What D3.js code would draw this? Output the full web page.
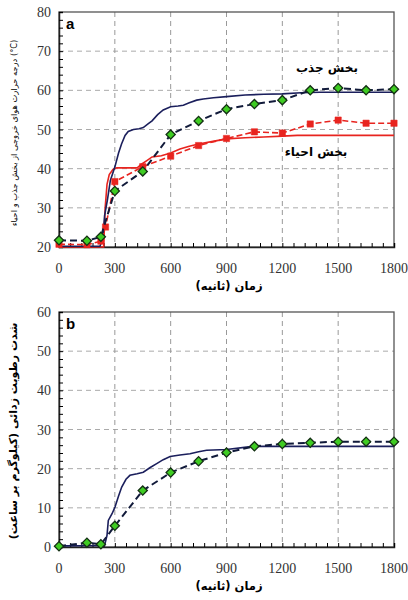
<!DOCTYPE html>
<html>
<head>
<meta charset="utf-8">
<script src="https://cdn.jsdelivr.net/npm/d3@7"></script>
<style>
  body { margin: 0; background: #fff; }
  svg { display: block; }
</style>
</head>
<body>
<div id="chart"></div>
<script>
// ---- data ----
var xTicks = [0, 300, 600, 900, 1200, 1500, 1800];

// panel a: outlet air temperature
var absorbLine = [[0,20.2],[220,20.2],[235,22],[245,28],[260,32],[276,37],[300,40.4],[320,44],[336,46.3],[355,48.5],[372,49.5],[400,50],[430,50.2],[453,50.5],[480,51.5],[500,52.2],[530,53.8],[560,55],[600,55.8],[640,56],[668,56.2],[700,56.8],[740,57.5],[775,57.8],[830,58.1],[900,58.4],[1000,58.8],[1100,59],[1200,59.1],[1300,59.4],[1400,59.5],[1800,59.5]];
var regenLine = [[0,20],[240,20],[248,30],[258,36],[270,38.5],[290,39.8],[310,40.2],[420,40.2],[445,41.2],[470,42],[500,43],[550,43.3],[600,44],[650,45],[700,45.7],[750,46.3],[820,46.9],[900,47.6],[1000,47.9],[1100,48.1],[1200,48.3],[1280,48.5],[1800,48.5]];
var absorbPts = [[0,21.7],[150,21.6],[225,22.6],[300,34.3],[450,39.3],[600,48.7],[750,52.2],[900,55.2],[1050,56.5],[1200,57.5],[1350,60],[1500,60.6],[1650,60],[1800,60.3]];
var regenPts = [[0,20.7],[150,20.6],[225,21.5],[250,25.1],[300,36.7],[450,40.5],[600,43.2],[750,45.9],[900,47.7],[1050,49.4],[1200,49.1],[1350,51.4],[1500,52.4],[1650,51.6],[1800,51.6]];

// panel b: dehumidification rate
var dehumLine = [[0,0.3],[245,0.4],[258,3],[265,6.8],[285,8.5],[301,10.2],[320,13],[337,15.3],[360,17.3],[381,18.3],[420,18.7],[453,19.1],[490,20.3],[525,21.3],[560,22.3],[597,23.1],[650,23.5],[704,23.8],[750,24.3],[793,24.7],[900,24.9],[1008,25.5],[1050,25.7],[1800,25.7]];
var dehumPts = [[0,0.2],[150,1.1],[225,0.7],[300,5.4],[450,14.4],[600,19],[750,21.9],[900,24.1],[1050,25.7],[1200,26.3],[1350,26.6],[1500,26.9],[1650,26.9],[1800,26.9]];

var width = 408, height = 600;
var svg = d3.select("#chart").append("svg")
    .attr("width", width).attr("height", height);

var navy = "#1b1f5c", red = "#e8241f", green = "#3fcc22";

function drawPanel(p) {
    var x = d3.scaleLinear().domain([0, 1800]).range([59, 394]);
    var y = d3.scaleLinear().domain(p.yDomain).range([p.bottom, p.top]);
    var g = svg.append("g");

    // grid
    var yTicks = d3.range(p.yDomain[0], p.yDomain[1] + 1, 10);
    g.selectAll(".gy").data(yTicks.slice(1, -1)).enter().append("line")
        .attr("x1", x(0)).attr("x2", x(1800))
        .attr("y1", function(d){ return y(d); }).attr("y2", function(d){ return y(d); })
        .style("stroke", "#aaa").style("stroke-dasharray", "5,4").style("stroke-width", 1);
    g.selectAll(".gx").data(xTicks.slice(1, -1)).enter().append("line")
        .attr("x1", function(d){ return x(d); }).attr("x2", function(d){ return x(d); })
        .attr("y1", p.top).attr("y2", p.bottom)
        .style("stroke", "#999").style("stroke-dasharray", "5,4").style("stroke-width", 1);

    // frame
    g.append("rect").attr("x", x(0)).attr("y", p.top)
        .attr("width", x(1800) - x(0)).attr("height", p.bottom - p.top)
        .style("fill", "none").style("stroke", "#555").style("stroke-width", 1.3);

    // axes with inward ticks
    var yAxis = d3.axisRight(y).tickValues(d3.range(p.yDomain[0], p.yDomain[1] + 0.1, 2))
        .tickSize(4).tickFormat("");
    g.append("g").attr("transform", "translate(" + x(0) + ",0)").call(yAxis)
        .call(function(s){ s.select(".domain").attr("stroke", "#222").attr("stroke-width", 1.5); });
    var xAxis = d3.axisTop(x).tickValues(d3.range(0, 1801, 60)).tickSize(4).tickFormat("");
    g.append("g").attr("transform", "translate(0," + p.bottom + ")").call(xAxis)
        .call(function(s){ s.select(".domain").attr("stroke", "#222").attr("stroke-width", 1.5); });

    // tick labels
    g.selectAll(".yl").data(yTicks).enter().append("text")
        .attr("x", 51).attr("y", function(d){ return y(d) + 5; })
        .attr("text-anchor", "end")
        .style("font-family", "Liberation Serif, serif").style("font-size", "14px").style("fill", "#333")
        .text(function(d){ return d; });
    g.selectAll(".xl").data(xTicks).enter().append("text")
        .attr("x", function(d){ return x(d); }).attr("y", p.bottom + 26)
        .attr("text-anchor", "middle")
        .style("font-family", "Liberation Serif, serif").style("font-size", "14px").style("fill", "#333")
        .text(function(d){ return d; });

    // x title
    g.append("text").attr("x", 229).attr("y", p.bottom + 43)
        .attr("text-anchor", "middle").attr("direction", "rtl")
        .style("font-family", "DejaVu Sans, sans-serif").style("font-size", "11.5px").style("font-weight", "bold")
        .text("زمان   (ثانیه)");

    // y title
    g.append("text")
        .attr("transform", "translate(" + p.yTitleX + "," + p.yTitleY + ") rotate(-90)")
        .attr("text-anchor", "middle")
        .style("font-family", "DejaVu Sans, sans-serif").style("font-size", p.yTitleSize)
        .style("font-weight", p.yTitleWeight)
        .text(p.yTitle);

    // panel letter
    g.append("text").attr("x", 66).attr("y", p.top + 17)
        .style("font-family", "Liberation Sans, Arial, sans-serif").style("font-size", "15px").style("font-weight", "bold")
        .text(p.letter);

    var line = d3.line().x(function(d){ return x(d[0]); }).y(function(d){ return y(d[1]); });
    p.series.forEach(function(s) {
        g.append("path").datum(s.data).attr("d", line)
            .style("fill", "none").style("stroke", s.color).style("stroke-width", s.width)
            .style("stroke-dasharray", s.dash || null);
        if (s.marker) {
            var sym = d3.symbol().type(d3.symbolSquare).size(s.marker === "diamond" ? 42 : 40);
            g.selectAll(null).data(s.data).enter().append("path")
                .attr("d", sym)
                .attr("transform", function(d){
                    return "translate(" + x(d[0]) + "," + y(d[1]) + ")" + (s.marker === "diamond" ? " rotate(45)" : "");
                })
                .style("fill", s.fill).style("stroke", s.stroke).style("stroke-width", s.marker === "diamond" ? 1.3 : 0.5);
        }
    });

    (p.notes || []).forEach(function(n) {
        g.append("text").attr("x", n.x).attr("y", n.y).attr("text-anchor", "middle")
            .style("font-family", "DejaVu Sans, sans-serif").style("font-size", "12px").style("font-weight", "bold")
            .text(n.text);
    });
}

drawPanel({
    top: 12, bottom: 247, yDomain: [20, 80], letter: "a",
    yTitle: "درجه حرارت هوای خروجی از بخش جذب و احیاء (°C)",
    yTitleX: 17, yTitleY: 133, yTitleSize: "8.3px", yTitleWeight: "normal",
    series: [
        { data: regenLine, color: red, width: 1.6 },
        { data: absorbLine, color: navy, width: 1.6 },
        { data: regenPts, color: red, width: 1.6, dash: "6,3", marker: "square", fill: red, stroke: red },
        { data: absorbPts, color: "#111a3a", width: 2, dash: "7,4", marker: "diamond", fill: green, stroke: "#143014" }
    ],
    notes: [
        { x: 327, y: 72, text: "بخش جذب" },
        { x: 316, y: 156, text: "بخش احیاء" }
    ]
});

drawPanel({
    top: 312, bottom: 547, yDomain: [0, 60], letter: "b",
    yTitle: "شدت رطوبت زدائی  (کیلوگرم بر ساعت)",
    yTitleX: 17, yTitleY: 431, yTitleSize: "11px", yTitleWeight: "bold",
    series: [
        { data: dehumLine, color: navy, width: 1.6 },
        { data: dehumPts, color: "#111a3a", width: 2, dash: "7,4", marker: "diamond", fill: green, stroke: "#143014" }
    ]
});
</script>
</body>
</html>
